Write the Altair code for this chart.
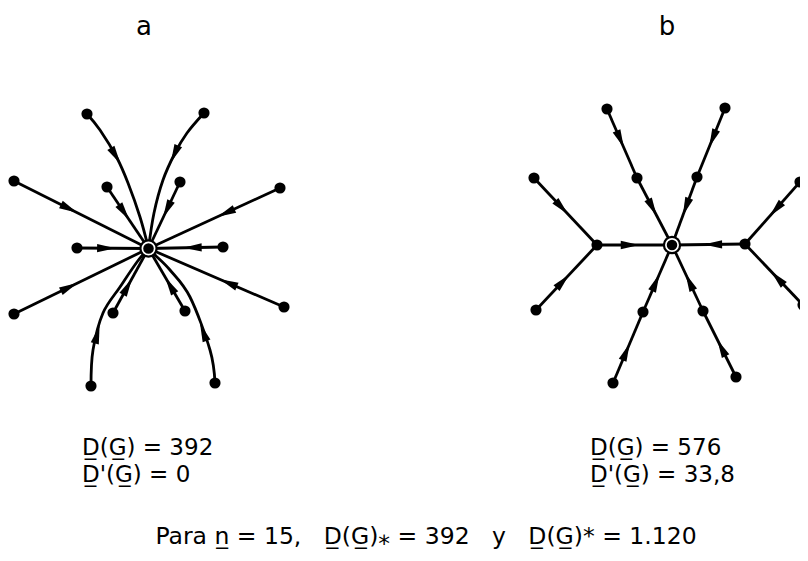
import math
import altair as alt
import pandas as pd

# ---------------- panel a (star, all arcs into the centre) ----------------
a_center = (148.5, 248.5)
a_leaf_x = [87, 204, 14, 107, 180, 280, 77, 223, 14, 113, 185, 284, 91, 215]
a_leaf_y = [114, 113, 181, 187, 182, 188, 248, 247, 314, 313, 311, 307, 386, 383]
# intermediate points of the four curved arcs (leaf index -> points)
a_bend_0 = [(100, 130), (117, 158), (128, 183), (140, 217)]
a_bend_1 = [(187, 133), (175, 153), (163, 180), (154, 213)]
a_bend_12 = [(93, 350), (103, 313), (120, 287), (137, 262)]
a_bend_13 = [(210, 350), (190, 297), (170, 270), (155, 255)]
a_bends = {0: a_bend_0, 1: a_bend_1, 12: a_bend_12, 13: a_bend_13}

# ---------------- panel b (tree, all arcs towards the centre) ----------------
b_node_x = [672, 637, 607, 697, 725, 597, 534, 536, 745, 800, 803, 643, 613, 703, 736]
b_node_y = [245, 178, 109, 177, 108, 245, 178, 310, 244, 182, 305, 312, 383, 311, 377]
b_edge_from = [2, 1, 4, 3, 6, 7, 5, 9, 10, 8, 12, 11, 14, 13]
b_edge_to = [1, 0, 3, 0, 5, 5, 0, 8, 8, 0, 11, 0, 13, 0]

# ---------------- texts ----------------
U = "\u0332"
S = "\u00a0"
panel_labels = ["a", "b"]
formula_a = [f"D{U}(G{U}) = 392", f"D{U}'(G{U}) = 0"]
formula_b = [f"D{U}(G{U}) = 576", f"D{U}'(G{U}) = 33,8"]
footer = (f"Para n{U} = 15,{S}{S} D{U}(G{U})\u204e = 392{S}{S} y{S}{S} "
          f"D{U}(G{U})* = 1.120")

# ---------------- build tables ----------------
paths = []   # edge id, order, x, y
arrows = []  # x, y, angle
nodes = []   # x, y


def add_edge(eid, pts, t):
    for k, (x, y) in enumerate(pts):
        paths.append({"edge": eid, "order": k, "x": x, "y": y})
    # arrow at fraction t of the polyline length
    seg = [math.dist(pts[i], pts[i + 1]) for i in range(len(pts) - 1)]
    target = t * sum(seg)
    acc = 0.0
    for i, s in enumerate(seg):
        if acc + s >= target:
            f = (target - acc) / s
            (x0, y0), (x1, y1) = pts[i], pts[i + 1]
            ang = math.degrees(math.atan2(y1 - y0, x1 - x0)) % 360
            arrows.append({"x": x0 + f * (x1 - x0), "y": y0 + f * (y1 - y0), "angle": ang})
            break
        acc += s


for i, (lx, ly) in enumerate(zip(a_leaf_x, a_leaf_y)):
    pts = [(lx, ly)] + a_bends.get(i, []) + [a_center]
    add_edge(f"a{i}", pts, 0.34 if i in a_bends else 0.41)
    nodes.append({"x": lx, "y": ly})

for j, (s, d) in enumerate(zip(b_edge_from, b_edge_to)):
    pts = [(b_node_x[s], b_node_y[s]), (b_node_x[d], b_node_y[d])]
    add_edge(f"b{j}", pts, 0.44)
for k in range(1, len(b_node_x)):
    nodes.append({"x": b_node_x[k], "y": b_node_y[k]})

centers = pd.DataFrame({"x": [a_center[0], b_node_x[0]], "y": [a_center[1], b_node_y[0]]})
paths = pd.DataFrame(paths)
arrows = pd.DataFrame(arrows)
nodes = pd.DataFrame(nodes)

letters = pd.DataFrame({"x": [144, 667], "y": [35, 35], "t": panel_labels})
formulas = pd.DataFrame({
    "x": [82, 82, 590, 590],
    "y": [455, 482, 455, 482],
    "t": formula_a + formula_b,
})
foot = pd.DataFrame({"x": [426], "y": [544], "t": [footer]})

xs = alt.Scale(domain=[8, 800], range=[0, 792], nice=False, zero=False)
ys = alt.Scale(domain=[8, 553], range=[0, 545], nice=False, zero=False)
X = alt.X("x:Q", scale=xs, axis=None)
Y = alt.Y("y:Q", scale=ys, axis=None)

edges_layer = alt.Chart(paths).mark_line(
    color="black", strokeWidth=2.8, interpolate="cardinal"
).encode(x=X, y=Y, detail="edge:N", order="order:Q")

arrow_layer = alt.Chart(arrows).mark_point(
    shape="M1,0L-1,-0.45L-1,0.45Z", filled=True, color="black", size=340, opacity=1
).encode(x=X, y=Y, angle=alt.Angle("angle:Q", scale=None))

node_layer = alt.Chart(nodes).mark_point(
    shape="circle", filled=True, color="black", size=125, opacity=1
).encode(x=X, y=Y)

center_outer = alt.Chart(centers).mark_point(
    shape="circle", filled=True, color="black", size=340, opacity=1
).encode(x=X, y=Y)
center_ring = alt.Chart(centers).mark_point(
    shape="circle", filled=False, color="white", size=150, strokeWidth=1.7, opacity=1
).encode(x=X, y=Y)

font = "DejaVu Sans"
letter_layer = alt.Chart(letters).mark_text(
    font=font, fontSize=26, align="center", baseline="alphabetic", color="black"
).encode(x=X, y=Y, text="t:N")
formula_layer = alt.Chart(formulas).mark_text(
    font=font, fontSize=23, align="left", baseline="alphabetic", color="black"
).encode(x=X, y=Y, text="t:N")
foot_layer = alt.Chart(foot).mark_text(
    font=font, fontSize=23.5, align="center", baseline="alphabetic", color="black"
).encode(x=X, y=Y, text="t:N")

chart = alt.layer(
    edges_layer, arrow_layer, node_layer, center_outer, center_ring,
    letter_layer, formula_layer, foot_layer,
).properties(
    width=792, height=545, padding=0, autosize=alt.AutoSizeParams(type="none"),
    background="white",
).configure_view(stroke=None)

chart.save("out.html", embed_options={"renderer": "svg", "actions": False})
